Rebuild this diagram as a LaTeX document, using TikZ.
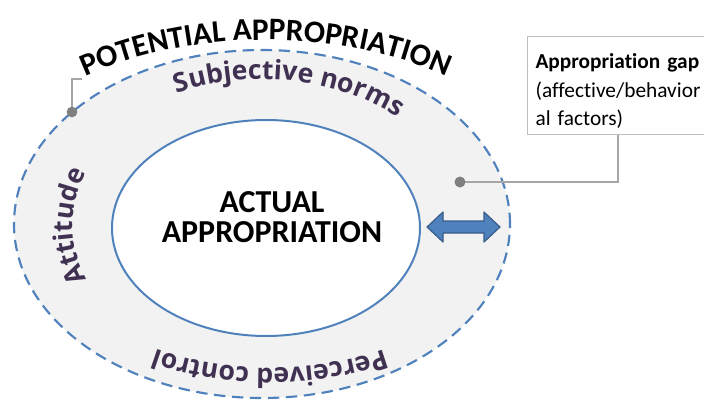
\documentclass[tikz,border=0pt]{standalone}
\usepackage{fontspec}
\setmainfont{Carlito}[Ligatures={NoCommon}]
\newfontfamily\opensansfam{Open Sans}
\usetikzlibrary{decorations.text,calc}
\definecolor{blueL}{HTML}{4F81BD}
\definecolor{blueD}{HTML}{385D8A}
\definecolor{bandgray}{HTML}{F2F2F2}
\definecolor{purpleT}{HTML}{403152}
\definecolor{leadgray}{HTML}{A6A6A6}
\definecolor{dotgray}{HTML}{7F7F7F}
\definecolor{boxgray}{HTML}{BFBFBF}
\newcommand\bandtxt{\opensansfam\bfseries\fontsize{20}{24}\selectfont\color{purpleT}}
\newcommand\titletxt{\bfseries\fontsize{23.5}{26}\selectfont}
\tikzset{
  outerring/.style={draw=blueL, line width=1.6pt, dash pattern=on 8.5pt off 5pt, fill=bandgray},
  innerring/.style={draw=blueL, line width=1.5pt, fill=white},
  leaderline/.style={draw=leadgray, line width=1.1pt},
  leaddot/.style={circle, fill=dotgray, inner sep=0pt, minimum size=8pt},
  gapbox/.style={draw=boxgray, line width=0.8pt, fill=white, anchor=north west,
    text width=135pt, inner xsep=6pt, inner ysep=4pt, minimum height=66pt,
    font=\fontsize{16}{21.5}\selectfont, align=left},
  blockarrow/.style={fill=blueL, draw=blueD, line width=0.9pt, line join=round},
  bigtext/.style={font=\bfseries\fontsize{24}{22.5}\selectfont, align=center}
}
\begin{document}
\begin{tikzpicture}[x=0.75pt,y=0.75pt]
\useasboundingbox (0,0) rectangle (704,-403);
\clip (0,0) rectangle (704,-403);
\fill[white] (0,0) rectangle (704,-403);

% rings
\draw[outerring] (262,-224) ellipse [x radius=248, y radius=174];
\draw[innerring] (266,-228) ellipse [x radius=154, y radius=108];

% title along arc (radii in pt: px*0.75)
\path[decorate, decoration={text along path, text align=center,
  text={|\titletxt|POTENTIAL APPROPRIATION}}]
  ($(266,-240)+(152:236.25pt and 150pt)$) arc[start angle=152, end angle=28, x radius=236.25pt, y radius=150pt];

% band texts
\path[decorate, decoration={text along path, text align=center,
  text={|\bandtxt|Subjective norms}}]
  ($(262,-226)+(142:150pt and 110pt)$) arc[start angle=142, end angle=18, x radius=150pt, y radius=110pt];
\path[decorate, decoration={text along path, text align=center,
  text={|\bandtxt|Attitude}}]
  ($(262,-226)+(228:142pt and 105pt)$) arc[start angle=228, end angle=132, x radius=142pt, y radius=105pt];
\path[decorate, decoration={text along path, text align=center,
  text={|\bandtxt|Perceived control}}]
  ($(270,-224)+(-15:172.5pt and 108pt)$) arc[start angle=-15, end angle=-165, x radius=172.5pt, y radius=108pt];

% centre text
\node[bigtext] (actual) at (272,-217) {ACTUAL\\APPROPRIATION};

% double arrow
\draw[blockarrow] (427,-227) -- (443,-212) -- (443,-221) -- (484,-221) -- (484,-212)
  -- (500,-227) -- (484,-242) -- (484,-233) -- (443,-233) -- (443,-242) -- cycle;

% callout
\node[gapbox] (gap) at (527,-36) {\rule{0pt}{20pt}\textbf{Appropriation gap}\\(affective/behavior\\al factors)};
\node[leaddot] (gapdot) at (460,-182) {};
\draw[leaderline] ($(gap.south west)+(91,0)$) |- (gapdot.center);
\node[leaddot] at (gapdot) {};

\coordinate (titlelead) at (82,-79);
\draw[leaderline] (72,-112) |- (titlelead);
\node[leaddot] (potdot) at (72,-112) {};
\end{tikzpicture}
\end{document}
